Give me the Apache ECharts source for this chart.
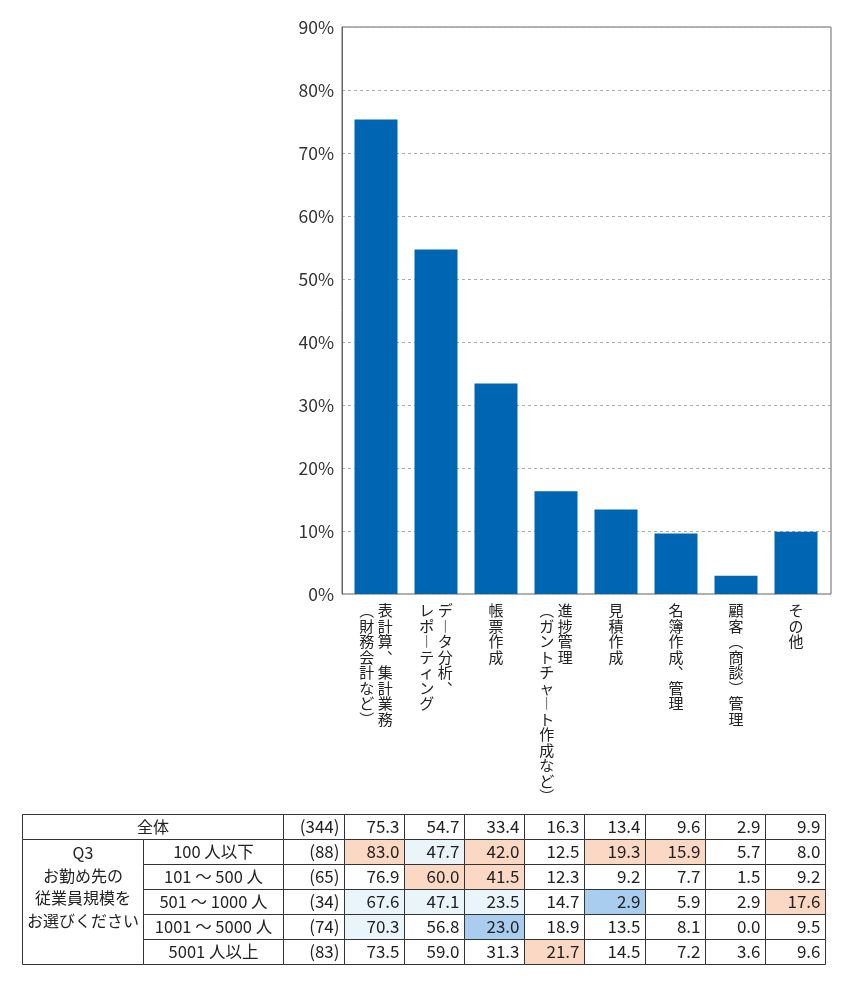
<!DOCTYPE html>
<html>
<head>
<meta charset="utf-8">
<script src="https://cdn.jsdelivr.net/npm/echarts@6/dist/echarts.min.js"></script>
<style>
html,body{margin:0;padding:0;background:#fff;}
#main{width:864px;height:1000px;}
</style>
</head>
<body>
<div id="main"></div>
<script>
// 項目と全体の値
var categories = ['表計算、集計業務\n(財務会計など)', 'データ分析、\nレポーティング', '帳票作成', '進捗管理\n(ガントチャート作成など)', '見積作成', '名簿作成、管理', '顧客(商談)管理', 'その他'];
var overall = [75.3, 54.7, 33.4, 16.3, 13.4, 9.6, 2.9, 9.9];
var yTicks = [0, 10, 20, 30, 40, 50, 60, 70, 80, 90];

// 表（Q3 従業員規模別）
var rowLabels = ['全体', '100 人以下', '101 ～ 500 人', '501 ～ 1000 人', '1001 ～ 5000 人', '5001 人以上'];
var rowN = [344, 88, 65, 34, 74, 83];
var row100 = [83.0, 47.7, 42.0, 12.5, 19.3, 15.9, 5.7, 8.0];
var row500 = [76.9, 60.0, 41.5, 12.3, 9.2, 7.7, 1.5, 9.2];
var row1000 = [67.6, 47.1, 23.5, 14.7, 2.9, 5.9, 2.9, 17.6];
var row5000 = [70.3, 56.8, 23.0, 18.9, 13.5, 8.1, 0.0, 9.5];
var rowOver = [73.5, 59.0, 31.3, 21.7, 14.5, 7.2, 3.6, 9.6];
var groupTitle = 'Q3\nお勤め先の\n従業員規模を\nお選びください';

var tableRows = [overall, row100, row500, row1000, row5000, rowOver];
var FONT = '"Noto Sans CJK JP", "Noto Sans", sans-serif';

// 縦書きラベル（右の列から左へ）
var vmap = {'、': '︑', '(': '︵', ')': '︶', 'ー': '︱'};
var toVertical = function (label) {
    var cols = label.split('\n').map(function (s) {
        return Array.from(s).map(function (c) { return vmap[c] || c; });
    });
    var n = Math.max.apply(null, cols.map(function (c) { return c.length; }));
    var rows = [];
    for (var i = 0; i < n; i++) {
        var r = '';
        for (var j = cols.length - 1; j >= 0; j--) {
            r += (cols[j][i] || '　');
            if (j > 0) r += ' ';
        }
        rows.push(r);
    }
    return rows.join('\n');
};

// 表のセル（列の境界は表の幅 px 単位）
var colQ = [0, 121], colLabel = [121, 261], colN = [261, 322], valLeft = 322, valW = 60.1;
var cells = [];
var cellMeta = [];
var addCell = function (x0, x1, r0, r1, text, align, fill, shift, size) {
    cells.push([x0, x1, r0, r1]);
    cellMeta.push({text: text, align: align, fill: fill || '#fff', shift: shift || 0, size: size || 17});
};
var cellColor = function (v, base) {
    var d = v - base;
    if (d <= -10) return '#a8cdee';
    if (d <= -5) return '#eaf4fb';
    if (d >= 5) return '#fad8c4';
    return '#fff';
};
addCell(colQ[0], colLabel[1], 0, 1, rowLabels[0], 'center', '#fff', 0, 16);
addCell(colQ[0], colQ[1], 1, 6, groupTitle, 'center', '#fff', -15, 16);
for (var r = 0; r < tableRows.length; r++) {
    if (r > 0) addCell(colLabel[0], colLabel[1], r, r + 1, rowLabels[r], 'center', '#fff', 0, 16.5);
    addCell(colN[0], colN[1], r, r + 1, '(' + rowN[r] + ')', 'right');
    for (var c = 0; c < 8; c++) {
        var v = tableRows[r][c];
        addCell(valLeft + valW * c, valLeft + valW * (c + 1), r, r + 1, v.toFixed(1), 'right',
            r > 0 ? cellColor(v, overall[c]) : '#fff');
    }
}

var myChart = echarts.init(document.getElementById('main'));

var option = {
    animation: false,
    backgroundColor: '#fff',
    grid: [
        {left: 342, top: 27, width: 489, height: 567, show: true, borderColor: '#666', borderWidth: 1, backgroundColor: 'transparent'},
        {left: 346, top: 27, width: 480, height: 567},
        {left: 22, top: 814, width: 803, height: 150}
    ],
    xAxis: [
        {gridIndex: 0, type: 'value', min: 0, max: 1, show: false},
        {
            gridIndex: 1, type: 'category', data: categories,
            axisLine: {show: false}, axisTick: {show: false},
            axisLabel: {
                interval: 0, margin: 9, color: '#222',
                fontFamily: FONT, fontSize: 15, lineHeight: 15.5,
                formatter: function (v) { return toVertical(v); }
            }
        },
        {gridIndex: 2, type: 'value', min: 0, max: 803, show: false}
    ],
    yAxis: [
        {
            gridIndex: 0, type: 'value', min: yTicks[0], max: yTicks[yTicks.length - 1], interval: 10,
            axisLine: {show: true, lineStyle: {color: '#666'}},
            axisTick: {show: false},
            axisLabel: {margin: 8, color: '#333', fontSize: 17.5, fontFamily: FONT, formatter: '{value}%'},
            splitLine: {show: true, lineStyle: {color: '#aaa', type: [3, 3], width: 1}}
        },
        {gridIndex: 1, type: 'value', min: 0, max: 90, show: false, splitLine: {show: false}},
        {gridIndex: 2, type: 'value', min: 0, max: 6, inverse: true, show: false}
    ],
    series: [
        {
            type: 'bar', xAxisIndex: 1, yAxisIndex: 1,
            data: overall, barWidth: 43,
            itemStyle: {color: '#0066b3'}
        },
        {
            type: 'custom', xAxisIndex: 2, yAxisIndex: 2,
            encode: {x: [0, 1], y: [2, 3]},
            data: cells,
            clip: false,
            renderItem: function (params, api) {
                var m = cellMeta[params.dataIndex];
                var p0 = api.coord([api.value(0), api.value(2)]);
                var p1 = api.coord([api.value(1), api.value(3)]);
                var x0 = Math.round(p0[0]) + 0.5, y0 = Math.round(p0[1]) + 0.5;
                var x1 = Math.round(p1[0]) + 0.5, y1 = Math.round(p1[1]) + 0.5;
                var tx = m.align === 'right' ? x1 - 5 : (x0 + x1) / 2;
                return {
                    type: 'group',
                    children: [
                        {
                            type: 'rect',
                            shape: {x: x0, y: y0, width: x1 - x0, height: y1 - y0},
                            style: {fill: m.fill, stroke: '#333', lineWidth: 1}
                        },
                        {
                            type: 'text',
                            style: {
                                x: tx, y: (y0 + y1) / 2 + m.shift,
                                text: m.text, fill: '#222',
                                fontSize: m.size, fontFamily: FONT, lineHeight: 22.5,
                                align: m.align, verticalAlign: 'middle'
                            }
                        }
                    ]
                };
            }
        }
    ]
};

myChart.setOption(option);
</script>
</body>
</html>
